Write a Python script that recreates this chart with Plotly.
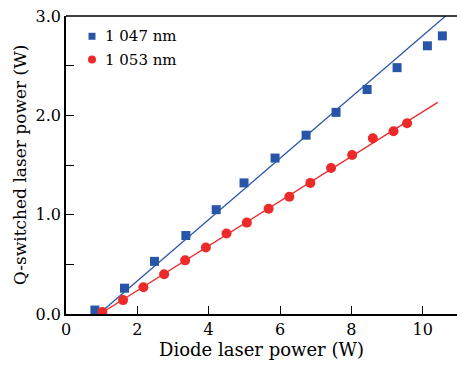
import plotly.graph_objects as go

# Measured output power versus diode pump power
pump_1047 = [0.81, 1.64, 2.48, 3.36, 4.21, 4.99, 5.86, 6.73, 7.57, 8.44, 9.28, 10.13, 10.55]
power_1047 = [0.04, 0.26, 0.53, 0.79, 1.05, 1.32, 1.57, 1.80, 2.03, 2.26, 2.48, 2.70, 2.80]

pump_1053 = [1.02, 1.60, 2.17, 2.75, 3.34, 3.92, 4.50, 5.07, 5.68, 6.26, 6.85, 7.43, 8.02, 8.60, 9.18, 9.56]
power_1053 = [0.02, 0.14, 0.27, 0.40, 0.54, 0.67, 0.81, 0.92, 1.06, 1.18, 1.32, 1.47, 1.60, 1.77, 1.84, 1.92]

# Linear fits: threshold pump power and slope efficiency
fit_1047 = {"threshold": 0.92, "slope": 0.3086, "x_end": 10.64}
fit_1053 = {"threshold": 0.95, "slope": 0.225, "x_end": 10.42}

labels = ["1 047 nm", "1 053 nm"]
x_ticks = [0, 2, 4, 6, 8, 10]
y_ticks = [0.0, 0.5, 1.0, 1.5, 2.0, 2.5, 3.0]

BLUE = "#2756a8"
RED = "#ec2a2a"
FONT = "DejaVu Serif"


def fit_line(fit):
    xs = [fit["threshold"], fit["x_end"]]
    ys = [fit["slope"] * (x - fit["threshold"]) for x in xs]
    return xs, ys


fig = go.Figure()

for fit, color in ((fit_1047, BLUE), (fit_1053, RED)):
    fx, fy = fit_line(fit)
    fig.add_trace(go.Scatter(x=fx, y=fy, mode="lines", line=dict(color=color, width=1.3),
                             showlegend=False, hoverinfo="skip"))

fig.add_trace(go.Scatter(x=pump_1047, y=power_1047, mode="markers", name=labels[0], showlegend=False,
                         marker=dict(symbol="square", size=9, color=BLUE)))
fig.add_trace(go.Scatter(x=pump_1053, y=power_1053, mode="markers", name=labels[1], showlegend=False,
                         marker=dict(symbol="circle", size=10, color=RED)))

axis_common = dict(showgrid=False, zeroline=False, showline=True, linecolor="black", linewidth=1.5,
                   ticks="inside", ticklen=8, tickcolor="black", tickwidth=1,
                   tickfont=dict(family=FONT, size=16, color="black"))

fig.update_layout(
    width=457, height=365,
    margin=dict(l=66, r=0, t=16, b=51),
    paper_bgcolor="white", plot_bgcolor="white",
    font=dict(family=FONT, color="black"),
    showlegend=False,
)
fig.update_xaxes(range=[0, 10.96], tickvals=x_ticks, ticktext=[str(v) for v in x_ticks],
                 title=dict(text="Diode laser power (W)", font=dict(family=FONT, size=18), standoff=2),
                 **axis_common)
fig.update_yaxes(range=[0, 3.0], tickvals=y_ticks,
                 ticktext=[f"{v:.1f}" if v == int(v) else "" for v in y_ticks],
                 title=dict(text="Q-switched laser power (W)", font=dict(family=FONT, size=17), standoff=5),
                 **axis_common)

# top border of the plotting frame
fig.add_shape(type="line", xref="paper", yref="paper", x0=0, x1=1, y0=1, y1=1,
              line=dict(color="black", width=1.5))

# legend key: symbols and labels in the upper-left corner
legend_rows = [(0.932, "rect", BLUE, 3.5, labels[0]), (0.854, "circle", RED, 4, labels[1])]
for ypos, kind, color, half, text in legend_rows:
    fig.add_shape(type=kind, xref="paper", yref="paper", xsizemode="pixel", ysizemode="pixel",
                  xanchor=0.0665, yanchor=ypos, x0=-half, x1=half, y0=-half, y1=half,
                  fillcolor=color, line=dict(width=0))
    fig.add_annotation(xref="paper", yref="paper", x=0.094, y=ypos, xanchor="left", yanchor="middle",
                       text=text, showarrow=False, font=dict(family=FONT, size=15, color="black"))

fig.write_html("out.html")
